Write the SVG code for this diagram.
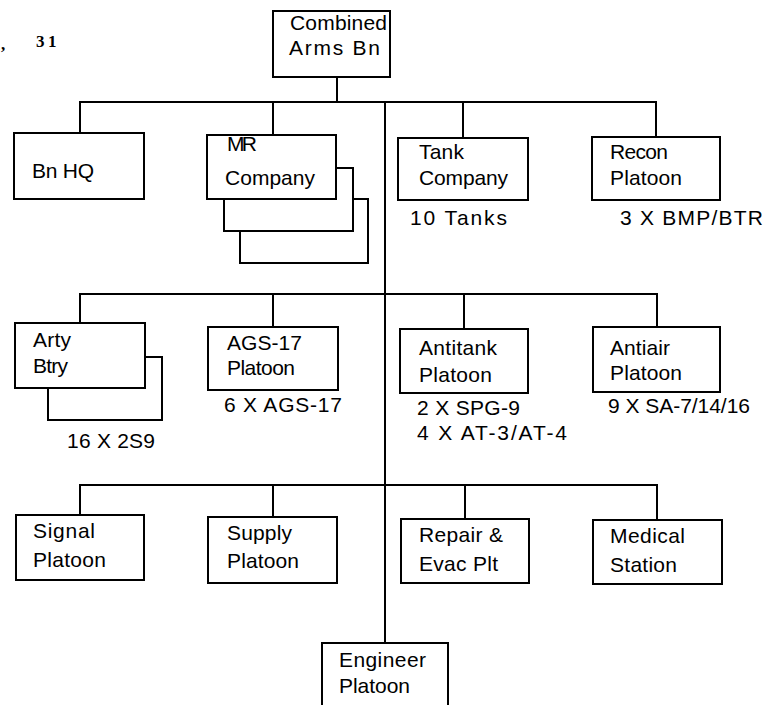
<svg xmlns="http://www.w3.org/2000/svg" width="764" height="705" viewBox="0 0 764 705">
<style>
rect{fill:#fff;stroke:#000;stroke-width:2}
.c line{stroke:#000;stroke-width:2}
text{font-family:"Liberation Sans",Arial,sans-serif;font-size:21px;fill:#000}
.m{font-family:"Liberation Serif",serif;font-weight:bold;font-size:17px}
</style>
<rect width="764" height="705" style="fill:#fff;stroke:none"/>
<text class="m" x="1" y="50">,</text>
<text class="m" x="36" y="47">3</text>
<text class="m" x="48" y="47">1</text>
<g class="c" id="connectors">
<line x1="337" y1="77" x2="337" y2="102"/>
<line x1="79" y1="102" x2="657" y2="102"/>
<line x1="80" y1="102" x2="80" y2="133"/>
<line x1="273" y1="102" x2="273" y2="135"/>
<line x1="463" y1="102" x2="463" y2="138"/>
<line x1="656" y1="102" x2="656" y2="137"/>
<line x1="385" y1="102" x2="385" y2="643"/>
<line x1="79" y1="294" x2="658" y2="294"/>
<line x1="80" y1="294" x2="80" y2="323"/>
<line x1="273" y1="294" x2="273" y2="327"/>
<line x1="464" y1="294" x2="464" y2="329"/>
<line x1="657" y1="294" x2="657" y2="327"/>
<line x1="79" y1="485" x2="658" y2="485"/>
<line x1="80" y1="485" x2="80" y2="515"/>
<line x1="273" y1="485" x2="273" y2="517"/>
<line x1="465" y1="485" x2="465" y2="519"/>
<line x1="657" y1="485" x2="657" y2="520"/>
</g>
<g id="combined-arms-bn">
<rect x="273" y="11" width="117" height="66"/>
<text x="290" y="30" textLength="97">Combined</text>
<text x="289" y="55" textLength="91">Arms Bn</text>
</g>
<g id="bn-hq">
<rect x="14" y="133" width="130" height="66"/>
<text x="32" y="178" textLength="62">Bn HQ</text>
</g>
<g id="mr-company">
<rect x="240" y="199" width="128" height="64"/>
<rect x="224" y="168" width="129" height="63"/>
<rect x="207" y="135" width="129" height="64"/>
<text x="227" y="151" textLength="30">MR</text>
<text x="225" y="185" textLength="90">Company</text>
</g>
<g id="tank-company">
<rect x="398" y="138" width="130" height="62"/>
<text x="419" y="159" textLength="45">Tank</text>
<text x="419" y="185" textLength="89">Company</text>
<text x="410" y="225" textLength="97">10 Tanks</text>
</g>
<g id="recon-platoon">
<rect x="592" y="137" width="128" height="63"/>
<text x="610" y="159" textLength="58">Recon</text>
<text x="610" y="185" textLength="72">Platoon</text>
<text x="620" y="225" textLength="143">3 X BMP/BTR</text>
</g>
<g id="arty-btry">
<rect x="48" y="357" width="114" height="63"/>
<rect x="15" y="323" width="130" height="65"/>
<text x="33" y="347" textLength="38">Arty</text>
<text x="33" y="373" textLength="35">Btry</text>
<text x="67" y="448" textLength="88">16 X 2S9</text>
</g>
<g id="ags-17-platoon">
<rect x="208" y="327" width="130" height="63"/>
<text x="227" y="350" textLength="75">AGS-17</text>
<text x="227" y="375" textLength="68">Platoon</text>
<text x="224" y="412" textLength="118">6 X AGS-17</text>
</g>
<g id="antitank-platoon">
<rect x="400" y="329" width="128" height="64"/>
<text x="419" y="355" textLength="78">Antitank</text>
<text x="419" y="382" textLength="73">Platoon</text>
<text x="417" y="415" textLength="103">2 X SPG-9</text>
<text x="417" y="440" textLength="150">4 X AT-3/AT-4</text>
</g>
<g id="antiair-platoon">
<rect x="593" y="327" width="127" height="65"/>
<text x="610" y="355" textLength="60">Antiair</text>
<text x="610" y="380" textLength="72">Platoon</text>
<text x="608" y="413" textLength="142">9 X SA-7/14/16</text>
</g>
<g id="signal-platoon">
<rect x="16" y="515" width="128" height="65"/>
<text x="33" y="538" textLength="62">Signal</text>
<text x="33" y="567" textLength="73">Platoon</text>
</g>
<g id="supply-platoon">
<rect x="208" y="517" width="129" height="66"/>
<text x="227" y="540" textLength="65">Supply</text>
<text x="227" y="568" textLength="72">Platoon</text>
</g>
<g id="repair-evac-plt">
<rect x="401" y="519" width="128" height="64"/>
<text x="419" y="542" textLength="84">Repair &amp;</text>
<text x="419" y="571" textLength="79">Evac Plt</text>
</g>
<g id="medical-station">
<rect x="593" y="520" width="129" height="64"/>
<text x="610" y="543" textLength="75">Medical</text>
<text x="610" y="572" textLength="67">Station</text>
</g>
<g id="engineer-platoon">
<rect x="322" y="643" width="126" height="70"/>
<text x="339" y="667" textLength="87">Engineer</text>
<text x="339" y="693" textLength="71">Platoon</text>
</g>
</svg>
